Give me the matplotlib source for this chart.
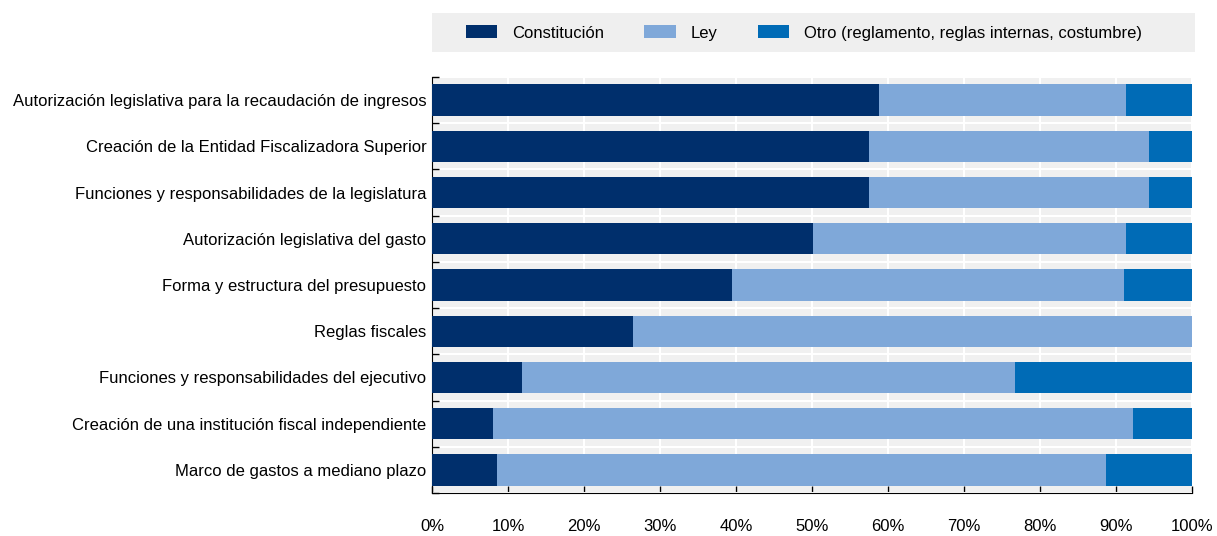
import numpy as np
import matplotlib.pyplot as plt
from matplotlib.patches import Patch, Rectangle

plt.rcParams['font.family'] = ['Liberation Sans Narrow', 'Liberation Sans', 'DejaVu Sans']

# Categories, listed top to bottom
categorias = [
    "Autorización legislativa para la recaudación de ingresos",
    "Creación de la Entidad Fiscalizadora Superior",
    "Funciones y responsabilidades de la legislatura",
    "Autorización legislativa del gasto",
    "Forma y estructura del presupuesto",
    "Reglas fiscales",
    "Funciones y responsabilidades del ejecutivo",
    "Creación de una institución fiscal independiente",
    "Marco de gastos a mediano plazo",
]

# Share of countries (%)
constitucion = [58.8, 57.5, 57.5, 50.1, 39.5, 26.5, 11.8, 8.0, 8.6]
ley = [32.5, 36.8, 36.8, 41.2, 51.6, 73.5, 64.9, 84.2, 80.1]
otro = [8.7, 5.7, 5.7, 8.7, 8.9, 0.0, 23.3, 7.8, 11.3]

series = ["Constitución", "Ley", "Otro (reglamento, reglas internas, costumbre)"]
colores = ["#002F6C", "#7FA8D9", "#006BB6"]
xticks = np.arange(0, 101, 10)

W, H = 1217, 536
fig = plt.figure(figsize=(W / 100, H / 100), dpi=100)
ax = fig.add_axes([432 / W, 43 / H, 760 / W, 416 / H])
ax.set_facecolor("#F0F0F0")

y = np.arange(len(categorias))[::-1]
left = np.zeros(len(categorias))
for vals, col, name in zip([constitucion, ley, otro], colores, series):
    vals = np.array(vals)
    ax.barh(y, vals, left=left, height=0.68, color=col, label=name, zorder=3)
    left += vals

ax.set_xlim(0, 100)
ax.set_ylim(-0.5, len(categorias) - 0.5)
ax.set_xticks(xticks)
ax.set_xticklabels([f"{v}%" for v in xticks])
ax.set_yticks(y)
ax.set_yticklabels(categorias)
ax.set_yticks(np.arange(-0.5, len(categorias), 1), minor=True)

ax.tick_params(axis="x", direction="in", length=5, width=1, labelsize=12, pad=19, color="black")
ax.tick_params(axis="y", which="major", length=0, labelsize=12, pad=4)
ax.tick_params(axis="y", which="minor", direction="in", length=5, width=1, color="black")

ax.grid(axis="x", color="white", linewidth=1.5, zorder=1)
ax.grid(axis="y", which="minor", color="white", linewidth=1.5, zorder=1)
ax.set_axisbelow(True)

for s in ["top", "right"]:
    ax.spines[s].set_visible(False)
ax.spines["left"].set_color("black")
ax.spines["bottom"].set_color("black")

# grey band behind the legend
fig.patches.append(Rectangle((432 / W, 1 - 52 / H), 763 / W, 39 / H,
                             transform=fig.transFigure, facecolor="#EFEFEF",
                             edgecolor="none", zorder=0))

handles = [Patch(facecolor=c, label=n) for c, n in zip(colores, series)]
fig.legend(handles=handles, loc="center", bbox_to_anchor=(804 / W, 1 - 33 / H), ncol=3,
           frameon=False, fontsize=12, handlelength=1.9, handleheight=0.8,
           columnspacing=2.4, handletextpad=0.9)

fig.savefig("out.png", dpi=100)
